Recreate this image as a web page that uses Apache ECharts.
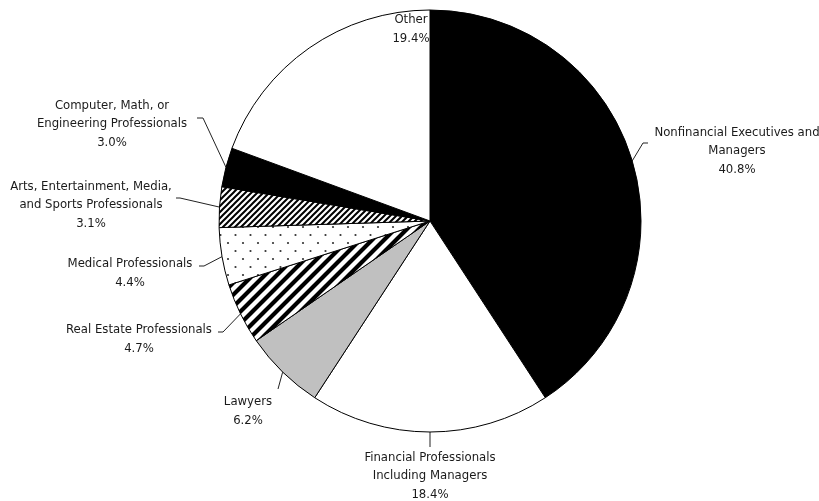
<!DOCTYPE html>
<html>
<head>
<meta charset="utf-8">
<script src="https://cdn.jsdelivr.net/npm/echarts@6/dist/echarts.min.js"></script>
<style>
  html, body { margin: 0; padding: 0; background: #fff; }
  #chart { width: 819px; height: 501px; }
</style>
</head>
<body>
<div id="chart"></div>
<script>
// categories, clockwise from 12 o'clock
var categories = [
  "Nonfinancial Executives and\nManagers",
  "Financial Professionals\nIncluding Managers",
  "Lawyers",
  "Real Estate Professionals",
  "Medical Professionals",
  "Arts, Entertainment, Media,\nand Sports Professionals",
  "Computer, Math, or\nEngineering Professionals",
  "Other"
];
var shares = [40.8, 18.4, 6.2, 4.7, 4.4, 3.1, 3.0, 19.4];

// where each label block sits, and the elbow of its leader line
var labelSpots = [
  { x: 737, y: 151, line: [[643, 143], [648, 143]] },
  { x: 430, y: 476, line: [[430, 447]] },
  { x: 248, y: 411, line: [[278, 389]] },
  { x: 139, y: 339, line: [[223, 332], [218, 332]] },
  { x: 130, y: 273, line: [[204, 266], [199, 266]] },
  { x: 91, y: 205, line: [[180, 198], [176, 198]] },
  { x: 112, y: 124, line: [[203, 118], [197, 118]] },
  { x: 411, y: 29, line: null }
];

// fill patterns
function stripes(p, w) {
  var c = document.createElement("canvas");
  c.width = p; c.height = p;
  var g = c.getContext("2d");
  g.fillStyle = "#fff";
  g.fillRect(0, 0, p, p);
  g.strokeStyle = "#000";
  g.lineWidth = w;
  g.beginPath();
  g.moveTo(-p, p); g.lineTo(p, -p);
  g.moveTo(0, p); g.lineTo(p, 0);
  g.moveTo(0, 2 * p); g.lineTo(2 * p, 0);
  g.stroke();
  return { image: c, repeat: "repeat" };
}
function dots() {
  var c = document.createElement("canvas");
  c.width = 15; c.height = 16;
  var g = c.getContext("2d");
  g.fillStyle = "#fff";
  g.fillRect(0, 0, 15, 16);
  g.fillStyle = "#333";
  g.beginPath(); g.arc(3, 3, 1.1, 0, Math.PI * 2); g.fill();
  g.beginPath(); g.arc(10.5, 11, 1.1, 0, Math.PI * 2); g.fill();
  return { image: c, repeat: "repeat" };
}

var fills = [
  "#000",
  "#fff",
  "#c0c0c0",
  stripes(12, 4.2),
  dots(),
  stripes(6, 2),
  "#000",
  "#fff"
];

var pieData = categories.map(function (name, i) {
  var item = { name: name, value: shares[i], itemStyle: { color: fills[i] } };
  if (!labelSpots[i].line) item.labelLine = { show: false };
  return item;
});

var myChart = echarts.init(document.getElementById("chart"), null, { renderer: "canvas" });

myChart.setOption({
  backgroundColor: "#fff",
  animation: false,
  series: [
    {
      type: "pie",
      center: [430, 221],
      radius: 211,
      startAngle: 90,
      clockwise: true,
      avoidLabelOverlap: false,
      data: pieData,
      itemStyle: { borderColor: "#000", borderWidth: 1 },
      emphasis: { disabled: true },
      label: {
        show: true,
        position: "outside",
        formatter: function (p) { return p.name + "\n" + p.value.toFixed(1) + "%"; },
        fontFamily: "'Liberation Sans Narrow', 'DejaVu Sans Condensed', 'Roboto Condensed', sans-serif",
        fontSize: 13,
        lineHeight: 18.5,
        color: "#1a1a1a",
        align: "center"
      },
      labelLine: {
        show: true,
        length: 10,
        length2: 10,
        lineStyle: { color: "#222", width: 1 }
      },
      labelLayout: function (params) {
        var spot = labelSpots[params.dataIndex];
        var out = { x: spot.x, y: spot.y, align: "center", verticalAlign: "middle" };
        if (spot.line && params.labelLinePoints) {
          out.labelLinePoints = [params.labelLinePoints[0]].concat(spot.line);
        }
        return out;
      }
    }
  ]
});
</script>
</body>
</html>
